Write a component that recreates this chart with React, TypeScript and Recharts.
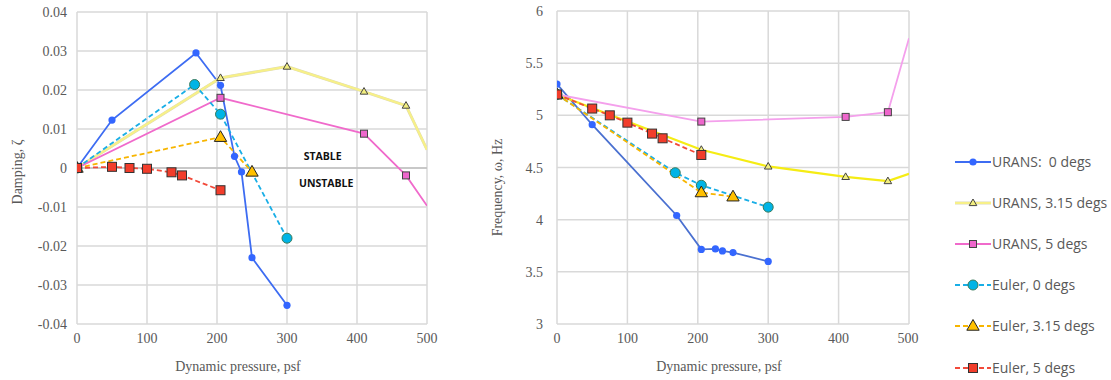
import { LineChart, Line, XAxis, YAxis, CartesianGrid, ReferenceLine, ReferenceDot, Label } from 'recharts';

// axes
const qTicks = [0, 100, 200, 300, 400, 500];
const dampTicks = [-0.04, -0.03, -0.02, -0.01, 0, 0.01, 0.02, 0.03, 0.04];
const freqTicks = [3, 3.5, 4, 4.5, 5, 5.5, 6];

// URANS, 0 degs
const uransQ0 = [0, 50, 170, 205, 225, 235, 250, 300];
const uransDamp0 = [0, 0.0123, 0.0295, 0.0212, 0.003, -0.001, -0.023, -0.0352];
const uransFreq0 = [5.3, 4.91, 4.04, 3.715, 3.72, 3.7, 3.685, 3.6];

// URANS, 3.15 degs (last point runs off the right edge)
const uransQ315 = [0, 205, 300, 410, 470, 500];
const uransDamp315 = [0, 0.0231, 0.026, 0.0196, 0.016, 0.0047];
const uransFreq315 = [5.2, 4.67, 4.51, 4.41, 4.37, 4.44];

// URANS, 5 degs
const uransQ5 = [0, 205, 410, 470, 500];
const uransDamp5 = [0, 0.018, 0.0088, -0.0019, -0.0097];
const uransFreq5 = [5.2, 4.94, 4.985, 5.03, 5.74];

// Euler, 0 degs
const eulerQ0 = [0, 168, 205, 300];
const eulerDamp0 = [0, 0.0214, 0.0138, -0.018];
const eulerFreq0 = [5.2, 4.45, 4.33, 4.12];

// Euler, 3.15 degs
const eulerQ315 = [0, 205, 250];
const eulerDamp315 = [0, 0.0079, -0.001];
const eulerFreq315 = [5.2, 4.26, 4.22];

// Euler, 5 degs
const eulerQ5 = [0, 50, 75, 100, 135, 150, 205];
const eulerDamp5 = [0, 0.0003, 0, -0.0002, -0.0011, -0.0019, -0.0057];
const eulerFreq5 = [5.2, 5.065, 5.0, 4.93, 4.825, 4.78, 4.62];

type Marker = 'circle' | 'triangle' | 'square';

interface Series {
  name: string;
  q: number[];
  damp: number[];
  freq: number[];
  color: string;
  freqColor: string;
  dashed: boolean;
  underlay?: string;
  marker: Marker;
  size: number;
  fill: string;
  stroke: string;
}

const series: Series[] = [
  { name: 'URANS:  0 degs', q: uransQ0, damp: uransDamp0, freq: uransFreq0, color: '#3d6cf2', freqColor: '#4a70d0', dashed: false, marker: 'circle', size: 3.6, fill: '#3366ff', stroke: 'none' },
  { name: 'URANS, 3.15 degs', q: uransQ315, damp: uransDamp315, freq: uransFreq315, color: '#f7f088', freqColor: '#f5ec14', dashed: false, underlay: '#dcd9b8', marker: 'triangle', size: 4, fill: '#f2ee80', stroke: '#444' },
  { name: 'URANS, 5 degs', q: uransQ5, damp: uransDamp5, freq: uransFreq5, color: '#f06acb', freqColor: '#f4a0ec', dashed: false, marker: 'square', size: 7, fill: '#ee66cc', stroke: '#444' },
  { name: 'Euler, 0 degs', q: eulerQ0, damp: eulerDamp0, freq: eulerFreq0, color: '#19aee6', freqColor: '#19aee6', dashed: true, marker: 'circle', size: 5, fill: '#00b4e6', stroke: '#3a7a5a' },
  { name: 'Euler, 3.15 degs', q: eulerQ315, damp: eulerDamp315, freq: eulerFreq315, color: '#f7b500', freqColor: '#f7b500', dashed: true, marker: 'triangle', size: 6.5, fill: '#ffc000', stroke: '#222' },
  { name: 'Euler, 5 degs', q: eulerQ5, damp: eulerDamp5, freq: eulerFreq5, color: '#f24a3a', freqColor: '#f24a3a', dashed: true, marker: 'square', size: 9, fill: '#f23d2b', stroke: '#333' },
];

const pts = (q: number[], v: number[]) => q.map((x, i) => ({ q: x, v: v[i] }));

function markerShape(s: Series, cx: number, cy: number, key?: string) {
  const k = s.size;
  if (s.marker === 'circle')
    return <circle key={key} cx={cx} cy={cy} r={k} fill={s.fill} stroke={s.stroke} strokeWidth={1} />;
  if (s.marker === 'square')
    return <rect key={key} x={cx - k / 2} y={cy - k / 2} width={k} height={k} fill={s.fill} stroke={s.stroke} strokeWidth={1} />;
  return (
    <path
      key={key}
      d={`M${cx},${cy - k} L${cx + k * 0.95},${cy + k * 0.65} L${cx - k * 0.95},${cy + k * 0.65} Z`}
      fill={s.fill}
      stroke={s.stroke}
      strokeWidth={1}
    />
  );
}

const makeDot = (s: Series) => (p: any) => {
  const key = `${s.name}-${p.index}`;
  if (p.cx == null || p.cy == null || p.payload.q >= 500) return <g key={key} />;
  return markerShape(s, p.cx, p.cy, key);
};

const serif = { fill: '#595959', fontSize: 14, fontFamily: 'Liberation Serif' };

const XTick = (p: any) => (
  <text x={p.x} y={p.y + 11} textAnchor="middle" style={serif}>
    {p.payload.value}
  </text>
);

const YTick = (p: any) => (
  <text x={p.x} y={p.y} dy={5} textAnchor="end" style={serif}>
    {p.payload.value}
  </text>
);

function renderLines(kind: 'damp' | 'freq') {
  const out: any[] = [];
  series.forEach((s) => {
    const data = pts(s.q, kind === 'damp' ? s.damp : s.freq);
    const color = kind === 'damp' ? s.color : s.freqColor;
    if (s.underlay && kind === 'damp')
      out.push(
        <Line key={s.name + '-u'} data={data} dataKey="v" stroke={s.underlay} strokeWidth={3} dot={false} activeDot={false} isAnimationActive={false} />
      );
    out.push(
      <Line
        key={s.name}
        data={data}
        dataKey="v"
        name={s.name}
        stroke={color}
        strokeWidth={s.underlay ? 2.2 : 1.8}
        strokeDasharray={s.dashed ? '5 3' : undefined}
        dot={makeDot(s)}
        activeDot={false}
        isAnimationActive={false}
      />
    );
  });
  return out;
}

const xTitle = (dx: number) => (props: any) => {
  const vb = props.viewBox;
  return (
    <text x={vb.x + vb.width / 2 + dx} y={vb.y + vb.height + 17} textAnchor="middle" style={serif}>
      Dynamic pressure, psf
    </text>
  );
};

const yTitle = (text: string, xOff: number, dy: number) => (props: any) => {
  const vb = props.viewBox;
  const x = vb.x + xOff;
  const y = vb.y + vb.height / 2 + dy;
  return (
    <text x={x} y={y} transform={`rotate(-90 ${x} ${y})`} textAnchor="middle" dominantBaseline="central" style={serif}>
      {text}
    </text>
  );
};

const zoneStyle = { fontFamily: 'Open Sans', fontWeight: 700, fontSize: 10.5, fill: '#111' };

function DampingChart() {
  return (
    <LineChart width={440} height={380} margin={{ top: 12, right: 13, bottom: 26, left: 0 }}>
      <CartesianGrid stroke="#d9d9d9" strokeWidth={1.5} />
      <XAxis type="number" dataKey="q" domain={[0, 500]} ticks={qTicks} allowDataOverflow axisLine={false} tickLine={false} tick={<XTick />} height={30}>
        <Label content={xTitle(-14)} />
      </XAxis>
      <YAxis type="number" domain={[-0.04, 0.04]} ticks={dampTicks} allowDataOverflow axisLine={false} tickLine={false} tick={<YTick />} tickMargin={4} width={77}>
        <Label content={yTitle('Damping, ζ', 17, 4)} />
      </YAxis>
      <ReferenceLine y={0} stroke="#bfbfbf" strokeWidth={1.5} />
      <ReferenceDot x={351} y={0.003} r={0} fill="none" stroke="none">
        <Label value="STABLE" position="center" style={zoneStyle} />
      </ReferenceDot>
      <ReferenceDot x={356} y={-0.0038} r={0} fill="none" stroke="none">
        <Label value="UNSTABLE" position="center" style={zoneStyle} />
      </ReferenceDot>
      {renderLines('damp')}
    </LineChart>
  );
}

function FrequencyChart() {
  return (
    <LineChart width={460} height={380} margin={{ top: 11, right: 11, bottom: 26, left: 0 }}>
      <CartesianGrid stroke="#d9d9d9" strokeWidth={1.5} />
      <XAxis type="number" dataKey="q" domain={[0, 500]} ticks={qTicks} allowDataOverflow axisLine={false} tickLine={false} tick={<XTick />} height={30}>
        <Label content={xTitle(-14)} />
      </XAxis>
      <YAxis type="number" domain={[3, 6]} ticks={freqTicks} allowDataOverflow axisLine={false} tickLine={false} tick={<YTick />} tickMargin={8} width={97}>
        <Label content={yTitle('Frequency, ω, Hz', 37, 20)} />
      </YAxis>
      {renderLines('freq')}
    </LineChart>
  );
}

function Legend() {
  return (
    <div style={{ position: 'absolute', left: 954, top: 141 }}>
      {series.map((s) => (
        <div key={s.name} style={{ display: 'flex', alignItems: 'center', height: 41.2 }}>
          <svg width={38} height={16} style={{ flex: 'none' }}>
            {s.underlay && <line x1={1} y1={8} x2={37} y2={8} stroke={s.underlay} strokeWidth={3} />}
            <line x1={1} y1={8} x2={37} y2={8} stroke={s.color} strokeWidth={2} strokeDasharray={s.dashed ? '5 3' : undefined} />
            {markerShape(s, 19, 8)}
          </svg>
          <span style={{ fontFamily: 'Open Sans', fontSize: 14, color: '#595959', marginLeft: 0, whiteSpace: 'pre', lineHeight: '16px' }}>{s.name}</span>
        </div>
      ))}
    </div>
  );
}

export default function App() {
  return (
    <div style={{ position: 'absolute', left: 0, top: 0, width: 1111, height: 380, background: '#fff' }}>
      <div style={{ position: 'absolute', left: 0, top: 0 }}>
        <DampingChart />
      </div>
      <div style={{ position: 'absolute', left: 460, top: 0 }}>
        <FrequencyChart />
      </div>
      <Legend />
    </div>
  );
}
